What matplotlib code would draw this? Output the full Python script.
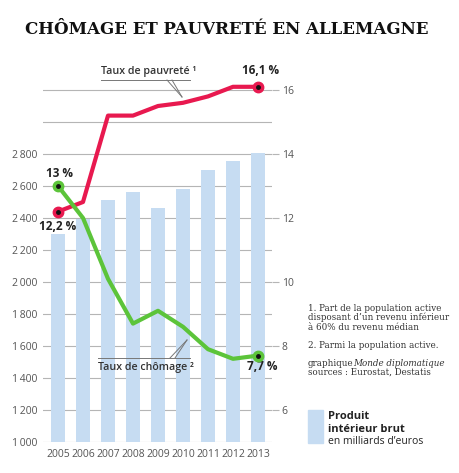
import matplotlib
matplotlib.use("Agg")
import numpy as np
import matplotlib.pyplot as plt

years = ['2005', '2006', '2007', '2008', '2009', '2010', '2011', '2012', '2013']
pib = [2300, 2393, 2513, 2561, 2460, 2580, 2703, 2755, 2809]
pauvrete = [12.2, 12.5, 15.2, 15.2, 15.5, 15.6, 15.8, 16.1, 16.1]
chomage = [13.0, 12.0, 10.1, 8.7, 9.1, 8.6, 7.9, 7.6, 7.7]

red = '#e8194f'
green = '#5cc43a'
blue = '#c6dcf2'
grey = '#555555'

plt.rcParams['font.family'] = ['Open Sans', 'DejaVu Sans']

W, H = 460, 473
fig = plt.figure(figsize=(W / 100, H / 100), dpi=100)
ax = fig.add_axes([43 / W, 31 / H, 229 / W, 368 / H])
ax2 = ax.twinx()

x = np.arange(len(years))
ax.bar(x, pib, width=0.59, color=blue, zorder=2)
ax.set_xlim(-0.6, 8.56)
ax.set_ylim(1000, 3300)
ax.set_yticks(range(1000, 2801, 200))
ax.set_yticklabels([f'{v:,}'.replace(',', '\u2009') for v in range(1000, 2801, 200)])
for g in range(1000, 3201, 200):
    ax.axhline(g, color='#b5b5b5', lw=0.8, zorder=1)
ax.set_xticks(x)
ax.set_xticklabels(years)
ax.tick_params(axis='both', length=0, labelsize=7.5, colors=grey, pad=4)
ax.tick_params(axis='x', pad=5)
for s in ax.spines.values():
    s.set_visible(False)

# axe de droite : 5 -> 16.5 (1000 -> 3300)
ax2.set_ylim(5, 16.5)
ax2.set_yticks([6, 8, 10, 12, 14, 16])
ax2.tick_params(axis='y', length=5, width=0.8, color='#b5b5b5', labelsize=7.5, labelcolor=grey, pad=2)
for s in ax2.spines.values():
    s.set_visible(False)

ax2.plot(x, pauvrete, color=red, lw=3, solid_capstyle='round', solid_joinstyle='round', zorder=3)
ax2.plot(x, chomage, color=green, lw=3, solid_capstyle='round', solid_joinstyle='round', zorder=3)
for serie, c in [(pauvrete, red), (chomage, green)]:
    ax2.plot([x[0], x[-1]], [serie[0], serie[-1]], 'o', ms=7.5, mfc=c, mec=c, zorder=4)
    ax2.plot([x[0], x[-1]], [serie[0], serie[-1]], 'o', ms=2.5, color='#111111', zorder=5)

lab = dict(fontsize=8.5, fontweight='bold', color='#222222', ha='center', va='center')
ax2.text(x[0], pauvrete[0] - 0.45, '12,2 %', **lab)
ax2.text(x[0] + 0.05, chomage[0] + 0.4, '13 %', **lab)
ax2.text(x[-1] + 0.1, pauvrete[-1] + 0.5, '16,1 %', **lab)
ax2.text(x[-1] + 0.18, chomage[-1] - 0.35, '7,7 %', **lab)

# annotations avec traits de rappel
def px2d(px, py):
    return (px - 58) / 25, 14 + (154 - py) / 32

t1 = px2d(101, 80)
ax2.text(t1[0], t1[1] + 0.08, 'Taux de pauvreté \u00b9', fontsize=7.7, color='#333333',
         fontweight='semibold', va='bottom', ha='left')
a, b = px2d(101, 80), px2d(190, 80)
ax2.plot([a[0], b[0]], [a[1], b[1]], color='#777777', lw=0.7, clip_on=False)
p = px2d(182, 97)
for sx in (167, 172):
    q = px2d(sx, 80)
    ax2.plot([q[0], p[0]], [q[1], p[1]], color='#777777', lw=0.7)

t2 = px2d(98, 358)
ax2.text(t2[0], t2[1] - 0.12, 'Taux de chômage \u00b2', fontsize=7.7, color='#333333',
         fontweight='semibold', va='top', ha='left')
a, b = px2d(98, 358), px2d(190, 358)
ax2.plot([a[0], b[0]], [a[1], b[1]], color='#777777', lw=0.7)
p = px2d(187, 340)
for sx in (170, 175):
    q = px2d(sx, 358)
    ax2.plot([q[0], p[0]], [q[1], p[1]], color='#777777', lw=0.7)

# titre
fig.text(227 / W, 1 - 30 / H, 'CHÔMAGE ET PAUVRETÉ EN ALLEMAGNE', ha='center', va='center',
         fontsize=12, fontweight='bold', family='DejaVu Serif', color='#111111')

# notes
note = dict(fontsize=6.3, family='DejaVu Serif', color='#333333', va='center', ha='left')
fig.text(308 / W, 1 - 308 / H, '1. Part de la population active', **note)
fig.text(308 / W, 1 - 317.5 / H, 'disposant d\u2019un revenu inférieur', **note)
fig.text(308 / W, 1 - 327 / H, 'à 60% du revenu médian', **note)
fig.text(308 / W, 1 - 346 / H, '2. Parmi la population active.', **note)
fig.text(308 / W, 1 - 363 / H, 'graphique', **note)
fig.text(353 / W, 1 - 363 / H, 'Monde diplomatique', style='italic', **note)
fig.text(308 / W, 1 - 372.5 / H, 'sources : Eurostat, Destatis', **note)

# légende
fig.patches.append(plt.Rectangle((308 / W, 1 - 443 / H), 15 / W, 33 / H, transform=fig.transFigure,
                                 color=blue, figure=fig))
fig.text(328 / W, 1 - 416 / H, 'Produit', fontsize=8, fontweight='bold', color='#222222', va='center')
fig.text(328 / W, 1 - 429 / H, 'intérieur brut', fontsize=8, fontweight='bold', color='#222222', va='center')
fig.text(328 / W, 1 - 441 / H, 'en milliards d\u2019euros', fontsize=7.5, color='#222222', va='center')

fig.savefig('out.png', dpi=100, facecolor='white')
